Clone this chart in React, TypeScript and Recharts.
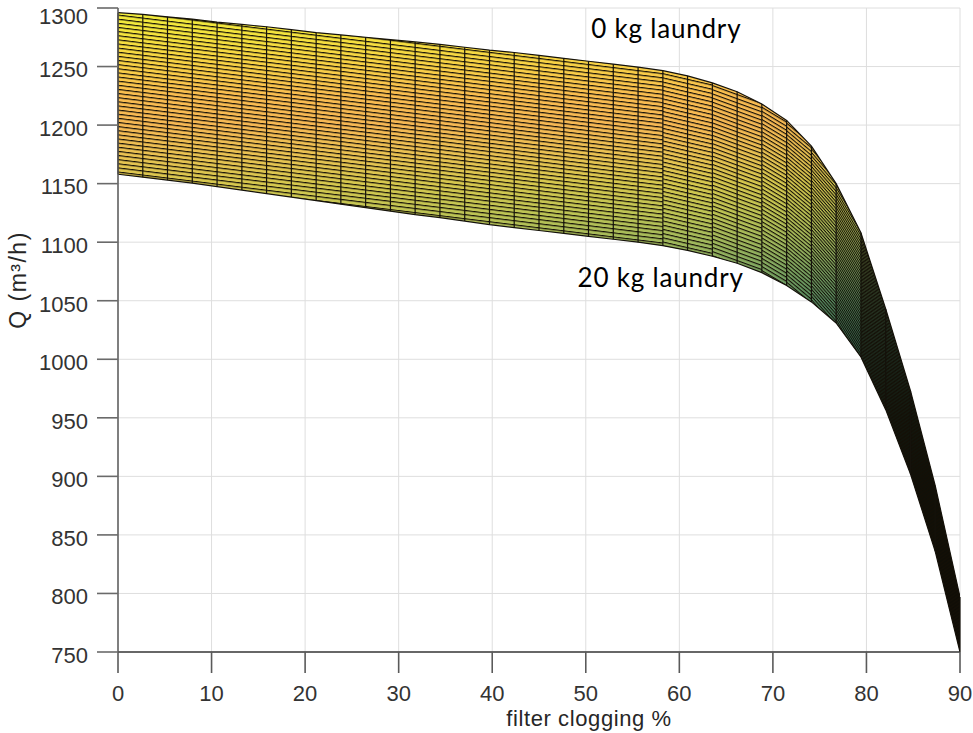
import {
  ComposedChart,
  Area,
  XAxis,
  YAxis,
  CartesianGrid,
  ReferenceLine,
  ReferenceDot,
  Label,
} from 'recharts';

// filter clogging (%) at each mesh column
const clogging = [
  0, 2.65, 5.29, 7.94, 10.59, 13.24, 15.88, 18.53, 21.18, 23.82, 26.47, 29.12, 31.76, 34.41, 37.06, 39.71, 42.35, 45,
  47.65, 50.29, 52.94, 55.59, 58.24, 60.88, 63.53, 66.18, 68.82, 71.47, 74.12, 76.76, 79.41, 82.06, 84.71, 87.35, 90,
];

// Q (m3/h) with an empty drum
const q0kg = [
  1296, 1294.5, 1292.5, 1290.5, 1288, 1286, 1284, 1281.5, 1279, 1277, 1275, 1273, 1271, 1269, 1266.5, 1264, 1262,
  1259.5, 1257, 1254.5, 1252, 1249.5, 1246.5, 1242, 1236, 1228.5, 1218, 1204, 1182, 1150, 1108, 1043, 973, 892, 797,
];

// Q (m3/h) with 20 kg of laundry
const q20kg = [
  1158, 1155.5, 1153, 1150.5, 1147.5, 1144.5, 1141.5, 1138.5, 1135.5, 1132.5, 1129.5, 1126.5, 1123.5, 1121, 1118,
  1115, 1112.5, 1110, 1107.5, 1105, 1102.5, 1100, 1097, 1093, 1088, 1082, 1074, 1063, 1049, 1031, 1002, 957, 902,
  836, 750,
];

const xTicks = [0, 10, 20, 30, 40, 50, 60, 70, 80, 90];
const yTicks = [750, 800, 850, 900, 950, 1000, 1050, 1100, 1150, 1200, 1250, 1300];

const notes = [
  { text: '0 kg laundry', clog: 58.6, q: 1282 },
  { text: '20 kg laundry', clog: 58.0, q: 1070 },
];

// surface colour against Q
const colourStops: [number, string][] = [
  [1300, '#f0ec3c'],
  [1275, '#f5e23e'],
  [1250, '#f8d046'],
  [1225, '#fabd50'],
  [1200, '#f6b854'],
  [1175, '#eac252'],
  [1150, '#d6c84e'],
  [1125, '#bec454'],
  [1100, '#a0b85c'],
  [1075, '#7ca662'],
  [1050, '#588e62'],
  [1025, '#3e7659'],
  [1000, '#2a5e4c'],
  [975, '#1a4436'],
  [950, '#0e2a20'],
  [900, '#05120c'],
  [750, '#000000'],
];

// slant / spacing of the laundry rows over runs of columns (px, degrees)
const meshRuns = [
  { from: 0, to: 22, angle: 7, gap: 4.1, line: 1.15 },
  { from: 22, to: 24, angle: 13, gap: 4.1, line: 1.15 },
  { from: 24, to: 26, angle: 20, gap: 3.9, line: 1.15 },
  { from: 26, to: 27, angle: 31, gap: 3.5, line: 1.15 },
  { from: 27, to: 28, angle: 40, gap: 2.9, line: 1.1 },
  { from: 28, to: 29, angle: 49, gap: 2.3, line: 1.05 },
  { from: 29, to: 30, angle: 59, gap: 1.7, line: 1.0 },
  { from: 30, to: 34, angle: 70, gap: 1.18, line: 1.0 },
];

const rows = clogging.map((c, i) => ({ i, clog: c, lo: q20kg[i], hi: q0kg[i] }));

const qTop = Math.max(...q0kg);
const qBottom = Math.min(...q20kg);

const axisFont = 'Liberation Sans, Arial, Helvetica, sans-serif';

function YTitle(props: any) {
  const vb = props.viewBox;
  const cx = vb.x - 40;
  const cy = vb.y + vb.height / 2 - 50;
  return (
    <text
      x={cx}
      y={cy}
      transform={`rotate(-90, ${cx}, ${cy})`}
      textAnchor="middle"
      dominantBaseline="central"
      fontSize={23}
      fontFamily={axisFont}
      fill="#262626"
      letterSpacing={1.5}
    >
      Q (m³/h)
    </text>
  );
}

function XTitle(props: any) {
  const vb = props.viewBox;
  return (
    <text
      x={vb.x + vb.width / 2 + 50}
      y={vb.y + vb.height - 7}
      textAnchor="middle"
      fontSize={22}
      fontFamily={axisFont}
      fill="#262626"
      letterSpacing={0.6}
    >
      filter clogging %
    </text>
  );
}

export default function App() {
  return (
    <div style={{ position: 'absolute', left: 0, top: 0, width: 973, height: 733, background: '#fff' }}>
      <ComposedChart width={973} height={733} data={rows} margin={{ top: 8, right: 13, bottom: 0, left: 58 }}>
        <defs>
          <linearGradient id="qColour" x1="0" y1="0" x2="0" y2="1">
            {colourStops.map(([q, c]) => (
              <stop
                key={q}
                offset={`${Math.max(0, Math.min(1, (qTop - q) / (qTop - qBottom))) * 100}%`}
                stopColor={c}
              />
            ))}
          </linearGradient>
          {meshRuns.map((run, k) => (
            <pattern
              key={k}
              id={`mesh${k}`}
              patternUnits="userSpaceOnUse"
              width={12}
              height={run.gap}
              patternTransform={`rotate(${run.angle})`}
            >
              <rect x={0} y={0} width={12} height={run.line} fill="#140f06" />
            </pattern>
          ))}
        </defs>
        <CartesianGrid stroke="#dedede" strokeWidth={1} />
        <XAxis
          type="number"
          dataKey="clog"
          domain={[0, 90]}
          ticks={xTicks}
          allowDataOverflow
          height={81}
          tickSize={21}
          tickMargin={12}
          axisLine={{ stroke: '#3a3a3a', strokeWidth: 1.5 }}
          tickLine={{ stroke: '#5a5a5a', strokeWidth: 1.6 }}
          tick={{ fontSize: 22, fill: '#333', fontFamily: axisFont }}
        >
          <Label content={XTitle} />
        </XAxis>
        <YAxis
          type="number"
          domain={[750, 1300]}
          ticks={yTicks}
          allowDataOverflow
          width={60}
          tickSize={21}
          tickMargin={9}
          axisLine={{ stroke: '#5a5a5a', strokeWidth: 1.5 }}
          tickLine={{ stroke: '#6a6a6a', strokeWidth: 1.6 }}
          tick={{ fontSize: 22, fill: '#333', fontFamily: axisFont, dy: 3 }}
        >
          <Label content={YTitle} />
        </YAxis>
        <Area
          dataKey={(d: any) => [d.lo, d.hi]}
          type="linear"
          fill="url(#qColour)"
          fillOpacity={1}
          stroke="#15120b"
          strokeWidth={1.2}
          isAnimationActive={false}
        />
        {meshRuns.map((run, k) => (
          <Area
            key={k}
            dataKey={(d: any) => (d.i >= run.from && d.i <= run.to ? [d.lo, d.hi] : null)}
            type="linear"
            fill={`url(#mesh${k})`}
            fillOpacity={1}
            stroke="none"
            isAnimationActive={false}
          />
        ))}
        {rows.map((r) => (
          <ReferenceLine
            key={r.i}
            segment={[
              { x: r.clog, y: r.lo },
              { x: r.clog, y: r.hi },
            ]}
            stroke="#15120b"
            strokeWidth={1.2}
            ifOverflow="visible"
          />
        ))}
        {notes.map((n) => (
          <ReferenceDot
            key={n.text}
            x={n.clog}
            y={n.q}
            r={0}
            stroke="none"
            fill="none"
            label={{
              value: n.text,
              position: 'center',
              fontSize: 26,
              fontFamily: 'Lato, "Noto Sans", sans-serif',
              fill: '#000',
              letterSpacing: 0.8,
            }}
          />
        ))}
      </ComposedChart>
    </div>
  );
}
